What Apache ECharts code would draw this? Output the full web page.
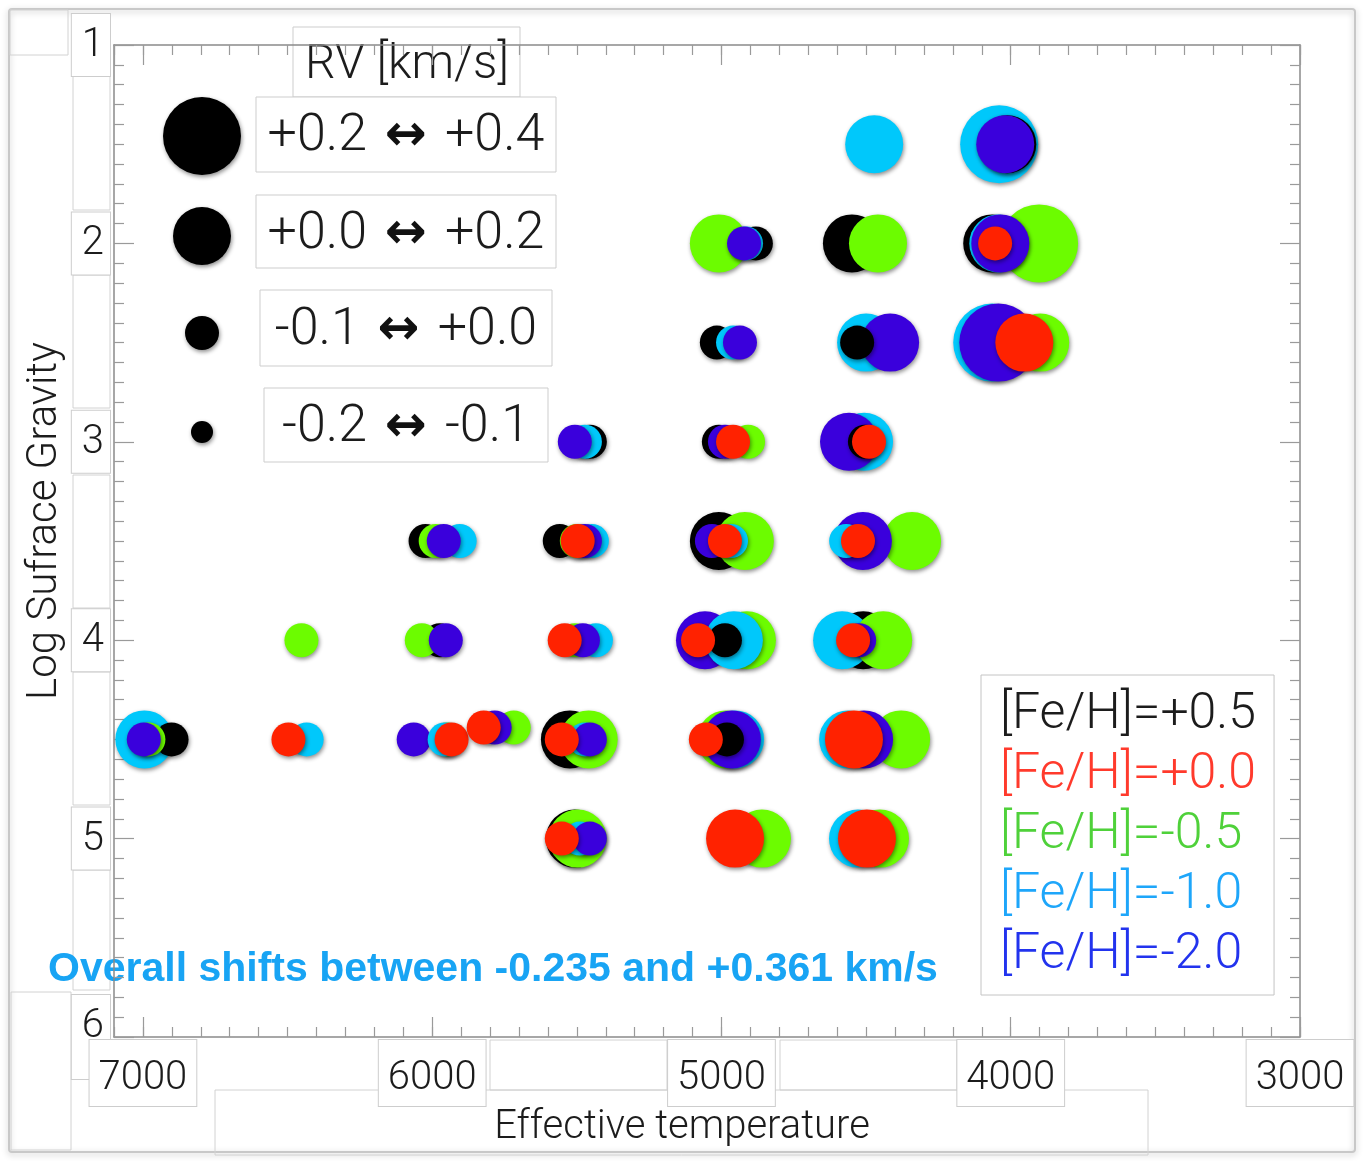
<!DOCTYPE html>
<html>
<head>
<meta charset="utf-8">
<script src="https://cdn.jsdelivr.net/npm/echarts@6/dist/echarts.min.js"></script>
<style>
html,body{margin:0;padding:0;background:#fff;}
#chart{width:1365px;height:1161px;}
</style>
</head>
<body>
<div id="chart"></div>
<script>
// ---------------- data ----------------
const fehLabels = ['[Fe/H]=+0.5', '[Fe/H]=+0.0', '[Fe/H]=-0.5', '[Fe/H]=-1.0', '[Fe/H]=-2.0'];
const rvBinLabels = ['+0.2 ↔ +0.4', '+0.0 ↔ +0.2', '-0.1 ↔ +0.0', '-0.2 ↔ -0.1'];
const rvBinLower = [0.2, 0.0, -0.1, -0.2];
const xTickLabels = [7000, 6000, 5000, 4000, 3000];
const yTickLabels = [1, 2, 3, 4, 5, 6];
const shiftNote = 'Overall shifts between -0.235 and +0.361 km/s';

// [Teff, logg, RV shift km/s]
const fehP05 = [
  [4012, 1.5, 0.15],
  [4881, 2.0, -0.02], [4549, 2.0, 0.12], [4064, 2.0, 0.15],
  [5016, 2.5, -0.02], [4531, 2.5, -0.03],
  [5455, 3.0, -0.02], [5009, 3.0, -0.01], [4504, 3.0, -0.02],
  [6023, 3.5, -0.01], [5559, 3.5, -0.01], [5009, 3.5, 0.12],
  [5974, 4.0, -0.01], [4988, 4.0, -0.02], [4510, 4.0, 0.15],
  [6901, 4.5, -0.01], [5524, 4.5, 0.15], [4981, 4.5, -0.03],
  [5507, 5.0, 0.15]
];
const fehP00 = [
  [4054, 2.0, -0.03],
  [3953, 2.5, 0.10],
  [4960, 3.0, -0.07], [4490, 3.0, -0.05],
  [5497, 3.5, -0.07], [4988, 3.5, -0.06], [4528, 3.5, -0.06],
  [5542, 4.0, -0.07], [5081, 4.0, -0.05], [4545, 4.0, -0.05],
  [6497, 4.5, -0.04], [5933, 4.5, -0.06], [5822, 4.44, -0.06], [5552, 4.5, -0.06], [5054, 4.5, -0.06], [4542, 4.5, 0.05],
  [5552, 5.0, -0.06], [4953, 5.0, 0.08], [4497, 5.0, 0.07]
];
const fehM05 = [
  [5009, 2.0, 0.05], [4459, 2.0, 0.08], [3902, 2.0, 0.25],
  [3898, 2.5, 0.15],
  [4908, 3.0, -0.05],
  [5988, 3.5, -0.03], [5500, 3.5, -0.02], [4919, 3.5, 0.08], [4341, 3.5, 0.13],
  [6452, 4.0, -0.04], [6036, 4.0, -0.03], [5507, 4.0, -0.01], [4912, 4.0, 0.16], [4441, 4.0, 0.08],
  [6981, 4.5, -0.03], [5950, 4.5, -0.03], [5718, 4.44, -0.02], [5459, 4.5, 0.10], [4984, 4.5, 0.15], [4379, 4.5, 0.16],
  [5497, 5.0, 0.10], [4860, 5.0, 0.12], [4452, 5.0, 0.14]
];
const fehM10 = [
  [4472, 1.5, 0.10], [4040, 1.5, 0.36],
  [4915, 2.0, -0.04], [4043, 2.0, 0.12],
  [4960, 2.5, -0.04], [4500, 2.5, 0.14], [4064, 2.5, 0.30],
  [5472, 3.0, -0.04], [4507, 3.0, 0.14],
  [5905, 3.5, -0.05], [5448, 3.5, -0.04], [4967, 3.5, -0.04], [4569, 3.5, -0.03],
  [5434, 4.0, -0.03], [4957, 4.0, 0.10], [4583, 4.0, 0.12],
  [6995, 4.5, 0.10], [6434, 4.5, -0.02], [5957, 4.5, -0.04], [5472, 4.5, -0.02], [4953, 4.5, 0.12], [4562, 4.5, 0.13],
  [5490, 5.0, -0.02], [4528, 5.0, 0.11]
];
const fehM20 = [
  [4019, 1.5, 0.12],
  [4922, 2.0, -0.06], [4036, 2.0, 0.10],
  [4936, 2.5, -0.06], [4417, 2.5, 0.10], [4043, 2.5, 0.26],
  [5507, 3.0, -0.06], [4988, 3.0, -0.03], [4559, 3.0, 0.10],
  [5960, 3.5, -0.07], [5472, 3.5, -0.05], [5033, 3.5, -0.02], [4511, 3.5, 0.10],
  [5953, 4.0, -0.05], [5479, 4.0, -0.05], [5057, 4.0, 0.13], [4524, 4.0, -0.02],
  [6997, 4.5, -0.05], [6064, 4.5, -0.02], [5784, 4.44, -0.04], [5455, 4.5, -0.04], [4964, 4.5, 0.09], [4507, 4.5, 0.10],
  [5455, 5.0, -0.04]
];

// ---------------- styles ----------------
const dotColors = ['#000000', '#ff2200', '#6cfc00', '#00c8fb', '#3a00dc'];
const legendTextColors = ['#1c1c1c', '#ff3a2c', '#4fd13a', '#1ea6fa', '#2233ee'];
const binSizes = [78, 58, 34, 22];
const FONT = 'Roboto, "Liberation Sans", sans-serif';
const boxBorder = '#cdcdcd';

function binOf(rv) {
  for (let i = 0; i < rvBinLower.length; i++) if (rv >= rvBinLower[i]) return i;
  return rvBinLower.length - 1;
}

const groups = [fehP05, fehP00, fehM05, fehM10, fehM20];
const pts = [];
groups.forEach((g, i) => g.forEach(p => pts.push({ name: fehLabels[i], value: p, itemStyle: { color: dotColors[i] } })));
// larger shifts drawn first (underneath)
pts.sort((a, b) => b.value[2] - a.value[2]);

const chart = echarts.init(document.getElementById('chart'), null, { renderer: 'canvas' });

const common = { type: 'value', min: 3000, max: 7100, inverse: true, splitLine: { show: false } };
const axisLineStyle = { color: '#8a8a8a', width: 1.5 };
const tickStyle = { color: '#9a9a9a', width: 1.2 };

const graphic = [
  { type: 'rect', silent: true, z: -10, shape: { x: 9, y: 9, width: 1346, height: 1143, r: 3 },
    style: { fill: 'none', stroke: '#c8c8c8', lineWidth: 2, shadowBlur: 6, shadowColor: 'rgba(0,0,0,0.25)', shadowOffsetY: 2 } }
];
// decorative pasted-label frames
const frameBoxes = [
  [10, 10, 58, 45], [73, 75, 37, 135], [73, 275, 37, 133], [73, 475, 37, 133], [73, 672, 37, 133], [73, 870, 37, 120],
  [11, 992, 60, 158], [490, 1040, 177, 50], [780, 1040, 177, 50], [215, 1090, 933, 65]
];
frameBoxes.forEach(b => graphic.push({ type: 'rect', silent: true, z: -5, shape: { x: b[0], y: b[1], width: b[2], height: b[3] },
  style: { fill: 'none', stroke: '#d2d2d2', lineWidth: 1 } }));
graphic.push(
  { type: 'rect', shape: { x: 293, y: 27, width: 227, height: 70 }, style: { fill: '#fff', stroke: boxBorder, lineWidth: 1 } },
  { type: 'text', x: 407, y: 66, style: { text: 'RV [km/s]', font: '300 48px ' + FONT, fill: '#1c1c1c', align: 'center', verticalAlign: 'middle' } }
);
const rowBoxes = [[256, 97, 300, 75], [256, 195, 300, 73], [260, 290, 292, 76], [264, 388, 284, 74]];
const rowCentersY = [137, 235, 331, 428];
const circleCY = [136, 236, 333, 432];
rvBinLabels.forEach((lab, i) => {
  const b = rowBoxes[i];
  const parts = lab.split(' ↔ ');
  graphic.push({ type: 'rect', shape: { x: b[0], y: b[1], width: b[2], height: b[3] }, style: { fill: '#fff', stroke: boxBorder, lineWidth: 1 } });
  graphic.push({ type: 'text', x: b[0] + b[2] / 2, y: rowCentersY[i],
    style: { text: '{n|' + parts[0] + '}{a|↔}{n|' + parts[1] + '}', align: 'center', verticalAlign: 'middle',
      rich: { n: { font: '300 52px ' + FONT, fill: '#1c1c1c' }, a: { font: 'bold 50px "DejaVu Sans"', fill: '#111', padding: [0, 18] } } } });
  graphic.push({ type: 'circle', shape: { cx: 202, cy: circleCY[i], r: binSizes[i] / 2 },
    style: { fill: '#000', shadowBlur: 4, shadowColor: 'rgba(0,0,0,0.45)', shadowOffsetX: 1, shadowOffsetY: 2 } });
});
graphic.push({ type: 'text', x: 48, y: 970, style: { text: shiftNote, font: 'bold 41px "Liberation Sans", Arial, sans-serif', fill: '#18a4f4', verticalAlign: 'middle' } });

const option = {
  animation: false,
  textStyle: { fontFamily: FONT },
  grid: { left: 114, right: 65, top: 45, bottom: 124, containLabel: false, outerBoundsMode: 'none' },
  xAxis: [
    Object.assign({}, common, {
      position: 'bottom', interval: 1000,
      axisLine: { show: true, lineStyle: axisLineStyle },
      axisTick: { show: true, inside: true, length: 20, lineStyle: tickStyle },
      axisLabel: {
        margin: 3, fontSize: 40, fontWeight: 300, color: '#1c1c1c', fontFamily: FONT,
        backgroundColor: '#fff', borderColor: boxBorder, borderWidth: 1, padding: [19, 9, 7, 9],
        formatter: v => (xTickLabels.indexOf(v) >= 0 ? String(v) : '')
      },
      name: 'Effective temperature', nameLocation: 'middle', nameGap: 71, nameMoveOverlap: false,
      nameTextStyle: { fontSize: 40, fontWeight: 300, color: '#1c1c1c', fontFamily: FONT, padding: [0, 50, 0, 0] }
    }),
    Object.assign({}, common, {
      position: 'bottom', interval: 100,
      axisLine: { show: false }, axisLabel: { show: false },
      axisTick: { show: true, inside: true, length: 10, lineStyle: tickStyle }
    }),
    Object.assign({}, common, {
      position: 'top', interval: 1000,
      axisLine: { show: true, lineStyle: axisLineStyle }, axisLabel: { show: false },
      axisTick: { show: true, inside: true, length: 20, lineStyle: tickStyle }
    }),
    Object.assign({}, common, {
      position: 'top', interval: 100,
      axisLine: { show: false }, axisLabel: { show: false },
      axisTick: { show: true, inside: true, length: 10, lineStyle: tickStyle }
    })
  ],
  yAxis: [
    {
      type: 'value', position: 'left', inverse: true, min: 1, max: 6, interval: 1,
      splitLine: { show: false },
      axisLine: { show: true, lineStyle: axisLineStyle },
      axisTick: { show: true, inside: true, length: 20, lineStyle: tickStyle },
      minorTick: { show: true, splitNumber: 10, length: 10, lineStyle: tickStyle },
      axisLabel: {
        margin: 4, fontSize: 40, fontWeight: 300, color: '#1c1c1c', fontFamily: FONT,
        backgroundColor: '#fff', borderColor: boxBorder, borderWidth: 1, padding: [12, 6, 10, 10],
        formatter: v => (yTickLabels.indexOf(v) >= 0 ? (v === 6 ? '{u|' + v + '}' : String(v)) : ''),
        rich: { u: { fontSize: 40, fontWeight: 300, color: '#1c1c1c', fontFamily: FONT, padding: [0, 0, 22, 0] } }
      },
      name: 'Log Sufrace Gravity', nameLocation: 'middle', nameGap: 48, nameMoveOverlap: false,
      nameTextStyle: { fontSize: 42, fontWeight: 300, color: '#1c1c1c', fontFamily: FONT, padding: [0, 0, 0, 40] }
    },
    {
      type: 'value', position: 'right', inverse: true, min: 1, max: 6, interval: 1,
      splitLine: { show: false },
      axisLine: { show: true, lineStyle: axisLineStyle },
      axisTick: { show: true, inside: true, length: 20, lineStyle: tickStyle },
      minorTick: { show: true, splitNumber: 10, length: 10, lineStyle: tickStyle },
      axisLabel: { show: false }
    }
  ],
  legend: {
    orient: 'vertical', left: 981, top: 675, selectedMode: false,
    icon: 'none', itemWidth: 1, itemHeight: 10, itemGap: 10,
    padding: [15, 18, 15, 13],
    backgroundColor: '#fff', borderColor: '#c4c4c4', borderWidth: 1,
    textStyle: { fontSize: 50, fontWeight: 300, fontFamily: FONT },
    data: fehLabels.map((n, i) => ({ name: n, textStyle: { color: legendTextColors[i] } }))
  },
  series: fehLabels.map((n, i) => ({ name: n, type: 'scatter', data: [], itemStyle: { color: dotColors[i] } })).concat([{
    name: 'RV shift', type: 'scatter', xAxisIndex: 0, yAxisIndex: 0,
    data: pts,
    symbol: 'circle',
    symbolSize: v => binSizes[binOf(v[2])],
    itemStyle: { shadowBlur: 4, shadowColor: 'rgba(0,0,0,0.45)', shadowOffsetX: 1, shadowOffsetY: 2, opacity: 1 },
    emphasis: { disabled: true },
    z: 5
  }]),
  graphic: graphic
};
chart.setOption(option);
</script>
</body>
</html>
